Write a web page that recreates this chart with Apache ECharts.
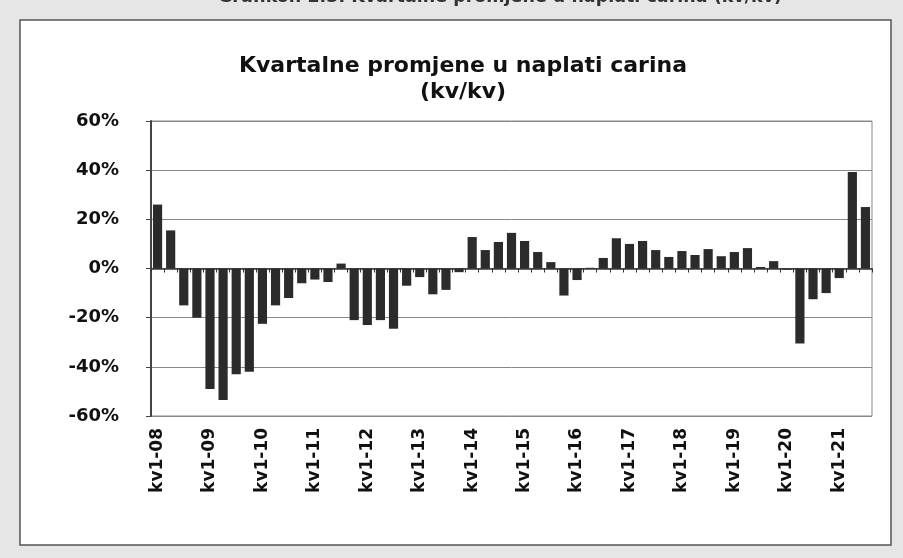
<!DOCTYPE html>
<html>
<head>
<meta charset="utf-8">
<script src="https://cdn.jsdelivr.net/npm/echarts@6/dist/echarts.min.js"></script>
<style>
html,body{margin:0;padding:0;background:#e6e6e6;}
#c{width:903px;height:558px;}
</style>
</head>
<body>
<div id="c"></div>
<script>
const years = ['08','09','10','11','12','13','14','15','16','17','18','19','20','21'];
const quarters = ['kv1','kv2','kv3','kv4'];
const categories = [];
years.forEach(y => quarters.forEach(q => categories.push(q + '-' + y)));
categories.length = 55; // kv1-08 .. kv3-21

const values = [
  26, 15.5, -15, -20,
  -49, -53.5, -43, -42,
  -22.5, -15, -12, -6,
  -4.5, -5.5, 2, -21,
  -23, -21, -24.5, -7,
  -3.5, -10.5, -8.7, -1.5,
  12.8, 7.5, 10.8, 14.5,
  11.2, 6.7, 2.6, -11,
  -4.7, 0.3, 4.3, 12.3,
  10, 11.2, 7.5, 4.7,
  7.1, 5.5, 7.9, 5,
  6.7, 8.3, 0.6, 3,
  -0.5, -30.5, -12.5, -10,
  -3.9, 39.3, 25
];

const yTicks = { min: -60, max: 60, interval: 20 };

const FONT = '"DejaVu Sans", Arial, sans-serif';

const chart = echarts.init(document.getElementById('c'), null, {renderer: 'canvas'});
chart.setOption({
  animation: false,
  backgroundColor: '#e6e6e6',
  graphic: [
    {type: 'rect', z: -10, shape: {x: 20, y: 20, width: 871, height: 525},
     style: {fill: '#ffffff', stroke: '#555555', lineWidth: 1.5}},
    {type: 'text', z: -5, x: 500, y: 6,
     style: {text: 'Grafikon 2.3. Kvartalne promjene u naplati carina (kv/kv)', fill: '#333',
             font: 'bold 17.5px "DejaVu Sans"', align: 'center', verticalAlign: 'bottom'}}
  ],
  title: {
    text: 'Kvartalne promjene u naplati carina\n(kv/kv)',
    left: 458, top: 48, textAlign: 'center',
    textStyle: {fontFamily: FONT, fontWeight: 'bold', fontSize: 22, color: '#111', lineHeight: 26}
  },
  grid: {left: 151, right: 31, top: 121, bottom: 142, show: true, borderColor: '#888', borderWidth: 1},
  xAxis: [
    {type: 'category', data: categories, position: 'bottom',
     axisLine: {onZero: true, lineStyle: {color: '#333', width: 1.5}},
     axisTick: {show: true, interval: 0, length: 4, lineStyle: {color: '#333'}},
     axisLabel: {show: false}, splitLine: {show: false}},
    {type: 'category', data: categories, position: 'bottom',
     axisLine: {show: false, onZero: false}, axisTick: {show: false},
     axisLabel: {interval: 3, rotate: 90, margin: 12, color: '#111',
                 fontFamily: FONT, fontWeight: 'bold', fontSize: 17}}
  ],
  yAxis: {
    type: 'value', min: yTicks.min, max: yTicks.max, interval: yTicks.interval,
    axisLine: {show: true, lineStyle: {color: '#444', width: 2}},
    axisTick: {show: true, length: 5, lineStyle: {color: '#444'}},
    axisLabel: {formatter: '{value}%', margin: 32, color: '#111',
                fontFamily: FONT, fontWeight: 'bold', fontSize: 18},
    splitLine: {show: true, lineStyle: {color: '#888', width: 1}}
  },
  series: [{
    type: 'bar', xAxisIndex: 0, data: values, barCategoryGap: '30%',
    itemStyle: {color: '#2b2b2b'}
  }]
});
</script>
</body>
</html>
